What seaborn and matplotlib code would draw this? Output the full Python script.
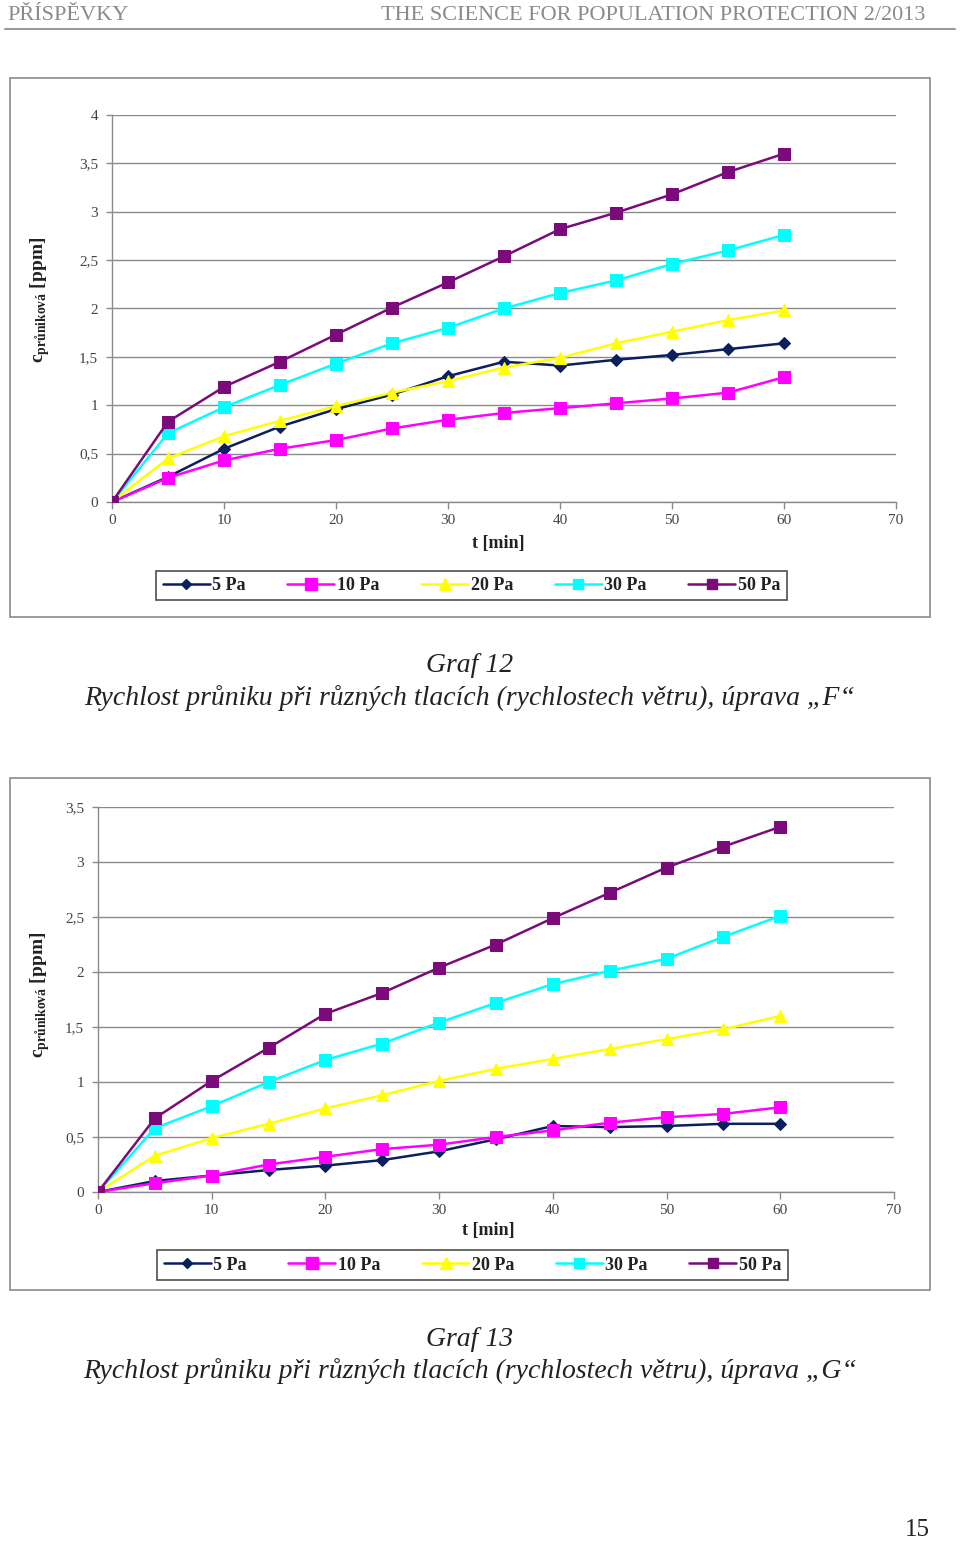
import matplotlib
matplotlib.use("Agg")
import matplotlib.pyplot as plt
from matplotlib.patches import Rectangle
from matplotlib.lines import Line2D
import numpy as np
import pandas as pd
import seaborn as sns

sns.set_theme(style="white")
plt.rcParams['font.family'] = ['Liberation Serif', 'DejaVu Serif']
plt.rcParams['mathtext.fontset'] = 'custom'
plt.rcParams['mathtext.rm'] = 'Liberation Serif'
plt.rcParams['mathtext.bf'] = 'Liberation Serif:bold'

# --- data ---
t_min = [0, 5, 10, 15, 20, 25, 30, 35, 40, 45, 50, 55, 60]
series_names = ['5 Pa', '10 Pa', '20 Pa', '30 Pa', '50 Pa']

# Graf 12 (úprava F)
f_5pa = [0, 0.26, 0.55, 0.78, 0.96, 1.11, 1.30, 1.45, 1.41, 1.47, 1.52, 1.58, 1.64]
f_10pa = [0, 0.25, 0.43, 0.55, 0.64, 0.76, 0.85, 0.92, 0.97, 1.02, 1.07, 1.13, 1.29]
f_20pa = [0, 0.45, 0.68, 0.84, 0.99, 1.13, 1.25, 1.39, 1.49, 1.64, 1.76, 1.88, 1.98]
f_30pa = [0, 0.71, 0.98, 1.21, 1.43, 1.64, 1.80, 2.00, 2.16, 2.29, 2.46, 2.60, 2.76]
f_50pa = [0, 0.83, 1.19, 1.45, 1.73, 2.01, 2.27, 2.54, 2.82, 2.99, 3.18, 3.41, 3.60]

# Graf 13 (úprava G)
g_5pa = [0, 0.10, 0.15, 0.20, 0.24, 0.29, 0.37, 0.48, 0.60, 0.59, 0.60, 0.62, 0.62]
g_10pa = [0, 0.08, 0.15, 0.25, 0.32, 0.39, 0.43, 0.50, 0.56, 0.63, 0.68, 0.71, 0.77]
g_20pa = [0, 0.33, 0.49, 0.62, 0.76, 0.88, 1.01, 1.12, 1.21, 1.30, 1.39, 1.48, 1.60]
g_30pa = [0, 0.58, 0.78, 1.00, 1.20, 1.35, 1.54, 1.72, 1.89, 2.01, 2.12, 2.32, 2.51]
g_50pa = [0, 0.67, 1.01, 1.31, 1.62, 1.81, 2.04, 2.25, 2.49, 2.72, 2.95, 3.14, 3.32]

x_ticks = [0, 10, 20, 30, 40, 50, 60, 70]
y_ticks_f = [0, 0.5, 1, 1.5, 2, 2.5, 3, 3.5, 4]
y_ticks_g = [0, 0.5, 1, 1.5, 2, 2.5, 3, 3.5]

# styles (colours, markers)
colors = ['#0b1f5e', '#ff00ff', '#ffff00', '#00ffff', '#7b0b7b']
markers = ['D', 's', '^', 's', 's']
msizes = [6, 9, 9, 8, 8.5]

W, H = 960, 1543
fig = plt.figure(figsize=(W / 100, H / 100), dpi=100)


def fx(px):
    return px / W


def fy(py):
    return 1 - py / H


def draw_chart(rect, data, yticks, ylab_xy, xlab_xy, leg_xy):
    ax = fig.add_axes(rect)
    df = pd.DataFrame({'t': t_min})
    for name, vals, c, m, ms in zip(series_names, data, colors, markers, msizes):
        df[name] = vals
        sns.lineplot(data=df, x='t', y=name, ax=ax, color=c, linewidth=1.8,
                     marker=m, markersize=ms, markeredgecolor=c, zorder=3)
    ax.set_xlim(0, 70)
    ax.set_ylim(0, yticks[-1])
    ax.set_xticks(x_ticks)
    ax.set_xticklabels([str(v) for v in x_ticks])
    ax.set_yticks(yticks)
    ax.set_yticklabels([('%g' % v).replace('.', ',') for v in yticks])
    ax.grid(axis='y', color='#8a8a8a', linewidth=1)
    ax.grid(axis='x', visible=False)
    for s in ['top', 'right']:
        ax.spines[s].set_visible(False)
    for s in ['left', 'bottom']:
        ax.spines[s].set_color('#8a8a8a')
        ax.spines[s].set_linewidth(1)
    ax.tick_params(axis='both', colors='#8a8a8a', labelcolor='#444444',
                   labelsize=11, direction='out', length=5, width=1, pad=6)
    ax.tick_params(axis='x', bottom=True, pad=4)
    ax.tick_params(axis='y', left=True, length=4)
    ax.set_xlabel('')
    ax.set_ylabel('')
    fig.text(xlab_xy[0], xlab_xy[1], 't [min]', ha='center', va='center',
             fontsize=13, fontweight='bold', color='#222222')
    fig.text(ylab_xy[0], ylab_xy[1], r'$\mathbf{c}_{\mathbf{průniková}}$ $\mathbf{[ppm]}$',
             rotation=90, ha='center', va='center', fontsize=14, color='#222222')
    handles = [Line2D([], [], color=c, marker=m, markersize=ms * 0.9, markeredgecolor=c,
                      linewidth=1.8) for c, m, ms in zip(colors, markers, msizes)]
    leg = fig.legend(handles, series_names, loc='center', bbox_to_anchor=leg_xy,
                     ncol=5, frameon=True, fancybox=False, handlelength=2.6,
                     handletextpad=0.15, columnspacing=2.3, borderpad=0.35,
                     prop={'family': 'Liberation Serif', 'weight': 'bold', 'size': 13})
    leg.get_frame().set_edgecolor('#222222')
    leg.get_frame().set_linewidth(1.2)
    for txt in leg.get_texts():
        txt.set_color('#222222')
    return ax


# header
fig.text(fx(7), fy(15), 'PŘÍSPĚVKY', ha='left', va='center', fontsize=16, color='#8a8a8a')
fig.text(fx(925), fy(15), 'THE SCIENCE FOR POPULATION PROTECTION 2/2013', ha='right',
         va='center', fontsize=16, color='#8a8a8a')
fig.add_artist(Line2D([fx(5), fx(955)], [fy(29), fy(29)], color='#9a9a9a', linewidth=1.5))

# chart frames
fig.add_artist(Rectangle((fx(10), fy(617)), fx(920), (617 - 78) / H, fill=False,
                         edgecolor='#8a8a8a', linewidth=1.2))
fig.add_artist(Rectangle((fx(10), fy(1290)), fx(920), (1290 - 778) / H, fill=False,
                         edgecolor='#8a8a8a', linewidth=1.2))

draw_chart([fx(112), fy(502), fx(896 - 112), (502 - 115) / H],
           [f_5pa, f_10pa, f_20pa, f_30pa, f_50pa], y_ticks_f,
           (fx(40), fy(300)), (fx(498), fy(543)), (fx(471.5), fy(585.5)))
draw_chart([fx(98), fy(1192), fx(894 - 98), (1192 - 807) / H],
           [g_5pa, g_10pa, g_20pa, g_30pa, g_50pa], y_ticks_g,
           (fx(40), fy(995)), (fx(488), fy(1230)), (fx(472.5), fy(1265)))

# captions
fig.text(fx(470), fy(666), 'Graf 12', ha='center', va='center', fontsize=20,
         style='italic', color='#222222')
fig.text(fx(470), fy(698), 'Rychlost průniku při různých tlacích (rychlostech větru), úprava „F“',
         ha='center', va='center', fontsize=20, style='italic', color='#222222')
fig.text(fx(470), fy(1340), 'Graf 13', ha='center', va='center', fontsize=20,
         style='italic', color='#222222')
fig.text(fx(470), fy(1371), 'Rychlost průniku při různých tlacích (rychlostech větru), úprava „G“',
         ha='center', va='center', fontsize=20, style='italic', color='#222222')
fig.text(fx(930), fy(1530), '15', ha='right', va='center', fontsize=18, color='#222222')

fig.savefig('out.png', dpi=100)
